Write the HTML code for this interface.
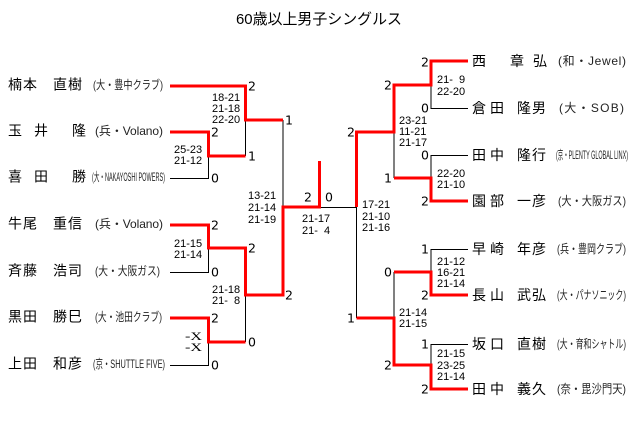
<!DOCTYPE html>
<html><head><meta charset="utf-8"><style>
html,body{margin:0;padding:0;background:#fff;}
svg{display:block;}
.n{font-family:"Liberation Sans","Noto Sans CJK JP",sans-serif;font-size:14px;fill:#000;}
.a{font-family:"Liberation Sans","Noto Sans CJK JP",sans-serif;font-size:12px;fill:#222;}
.s{font-family:"Liberation Sans",sans-serif;font-size:11px;fill:#000;}
.r{font-family:"DejaVu Sans",sans-serif;font-size:12.5px;fill:#000;}
.t{font-family:"Liberation Sans","Noto Sans CJK JP",sans-serif;font-size:15px;fill:#000;}
.red{fill:none;stroke:#ff0000;stroke-width:3;}
.blk{fill:none;stroke:#000;stroke-width:1;}
</style></head><body>
<svg width="640" height="429" viewBox="0 0 640 429" xmlns="http://www.w3.org/2000/svg">
<text class="t" x="236" y="24" textLength="166" lengthAdjust="spacingAndGlyphs">60歳以上男子シングルス</text>

<!-- black lines -->
<g class="blk">
<path d="M170,178.5 H208.5 V156"/>
<path d="M170,272.5 H208.5 V248"/>
<path d="M170,365.5 H208.5 V342"/>
<path d="M245.5,120 V156"/>
<path d="M245.5,295 V342"/>
<path d="M283,120 V207"/>
<path d="M319,207.5 H357"/>
<path d="M468,108.5 H431 V85"/>
<path d="M468,155.5 H431 V178"/>
<path d="M394,132 V178"/>
<path d="M468,249.5 H431 V272"/>
<path d="M468,344.5 H431 V365"/>
<path d="M394,272 V318"/>
<path d="M356.5,207 V318"/>
</g>

<!-- red lines -->
<g class="red">
<path d="M170,86 H245.5 V120 H283"/>
<path d="M170,132 H208.5 V156 H245.5"/>
<path d="M170,225 H208.5 V248 H245.5 V295 H283 V207 H319.5 V161"/>
<path d="M170,318 H208.5 V342 H245.5"/>
<path d="M468,61 H431 V85 H394 V132 H356.5 V207"/>
<path d="M468,201 H431 V178 H394"/>
<path d="M468,295 H431 V272 H394"/>
<path d="M468,389 H431 V365 H394 V318 H356.5"/>
</g>

<!-- left names -->
<text class="n" x="8 23 53 68" y="89.5">楠本直樹</text>
<text class="n" x="8 34 72" y="135.5">玉井隆</text>
<text class="n" x="8 34 72" y="181.5">喜田勝</text>
<text class="n" x="8 23 53 68" y="228.5">牛尾重信</text>
<text class="n" x="8 23 53 68" y="275.5">斉藤浩司</text>
<text class="n" x="8 23 53 68" y="321.5">黒田勝巳</text>
<text class="n" x="8 23 53 68" y="368.5">上田和彦</text>

<text class="a" x="93" y="89" textLength="70" lengthAdjust="spacingAndGlyphs">(大・豊中クラブ)</text>
<text class="a" x="95" y="135" textLength="68" lengthAdjust="spacing">(兵・Volano)</text>
<text class="a" x="92" y="181" textLength="73" lengthAdjust="spacingAndGlyphs">(大・NAKAYOSHI POWERS)</text>
<text class="a" x="95" y="228" textLength="68" lengthAdjust="spacing">(兵・Volano)</text>
<text class="a" x="95" y="275" textLength="65" lengthAdjust="spacingAndGlyphs">(大・大阪ガス)</text>
<text class="a" x="95" y="321" textLength="67" lengthAdjust="spacingAndGlyphs">(大・池田クラブ)</text>
<text class="a" x="93" y="368" textLength="72" lengthAdjust="spacingAndGlyphs">(京・SHUTTLE FIVE)</text>

<!-- right names -->
<text class="n" x="472 510 533" y="66">西章弘</text>
<text class="n" x="472 490 517 532" y="113">倉田隆男</text>
<text class="n" x="472 490 517 532" y="160">田中隆行</text>
<text class="n" x="472 490 517 532" y="206">園部一彦</text>
<text class="n" x="472 490 517 532" y="254">早崎年彦</text>
<text class="n" x="472 490 517 532" y="300">長山武弘</text>
<text class="n" x="472 490 517 532" y="349">坂口直樹</text>
<text class="n" x="472 490 517 532" y="394">田中義久</text>

<text class="a" x="558" y="65" textLength="68" lengthAdjust="spacing">(和・Jewel)</text>
<text class="a" x="559" y="112" textLength="65" lengthAdjust="spacing">(大・SOB)</text>
<text class="a" x="556" y="159" textLength="72" lengthAdjust="spacingAndGlyphs">(京・PLENTY GLOBAL LINX)</text>
<text class="a" x="558" y="205" textLength="68" lengthAdjust="spacingAndGlyphs">(大・大阪ガス)</text>
<text class="a" x="557" y="253" textLength="69" lengthAdjust="spacingAndGlyphs">(兵・豊岡クラブ)</text>
<text class="a" x="557" y="299" textLength="69" lengthAdjust="spacingAndGlyphs">(大・パナソニック)</text>
<text class="a" x="557" y="348" textLength="69" lengthAdjust="spacingAndGlyphs">(大・育和シャトル)</text>
<text class="a" x="557" y="393" textLength="69" lengthAdjust="spacingAndGlyphs">(奈・毘沙門天)</text>

<!-- round labels left -->
<g class="r">
<text x="248" y="90.5">2</text>
<text x="211" y="136.5">2</text>
<text x="211" y="182.5">0</text>
<text x="248" y="160.5">1</text>
<text x="285" y="124.5">1</text>
<text x="211" y="229.5">2</text>
<text x="211" y="276.5">0</text>
<text x="248" y="252.5">2</text>
<text x="285" y="299.5">2</text>
<text x="211" y="322.5">2</text>
<text x="211" y="369.5">0</text>
<text x="248" y="346.5">0</text>
<text x="304" y="201.5">2</text>
<text x="325" y="201.5">0</text>
</g>
<g class="r" text-anchor="end">
<text x="429" y="66.5">2</text>
<text x="429" y="112.5">0</text>
<text x="392" y="89.5">2</text>
<text x="355" y="136.5">2</text>
<text x="429" y="159.5">0</text>
<text x="429" y="205.5">2</text>
<text x="392" y="182.5">1</text>
<text x="429" y="253.5">1</text>
<text x="429" y="299.5">2</text>
<text x="392" y="276.5">0</text>
<text x="355" y="322.5">1</text>
<text x="429" y="348.5">1</text>
<text x="429" y="393.5">2</text>
<text x="392" y="369.5">2</text>
</g>

<!-- scores -->
<g class="s">
<text x="212" y="101">18-21</text>
<text x="212" y="112">21-18</text>
<text x="212" y="123">22-20</text>
<text x="174" y="153">25-23</text>
<text x="174" y="164">21-12</text>
<text x="248" y="199">13-21</text>
<text x="248" y="211">21-14</text>
<text x="248" y="223">21-19</text>
<text x="174" y="247">21-15</text>
<text x="174" y="258">21-14</text>
<text x="212" y="293">21-18</text>
<text x="212" y="304">21-<tspan x="234">8</tspan></text>
<text x="302" y="222">21-17</text>
<text x="302" y="234">21-<tspan x="324">4</tspan></text>

<text x="437" y="83">21-<tspan x="459">9</tspan></text>
<text x="437" y="95">22-20</text>
<text x="399" y="124">23-21</text>
<text x="399" y="135">11-21</text>
<text x="399" y="146">21-17</text>
<text x="437" y="177">22-20</text>
<text x="437" y="188">21-10</text>
<text x="362" y="208">17-21</text>
<text x="362" y="220">21-10</text>
<text x="362" y="231">21-16</text>
<text x="437" y="265">21-12</text>
<text x="437" y="276">16-21</text>
<text x="437" y="287">21-14</text>
<text x="399" y="316">21-14</text>
<text x="399" y="327">21-15</text>
<text x="437" y="357">21-15</text>
<text x="437" y="369">23-25</text>
<text x="437" y="380">21-14</text>
</g>
<g style="font-family:'Liberation Serif',serif;font-size:12px;fill:#000;">
<text x="185" y="340" textLength="17" lengthAdjust="spacingAndGlyphs">-X</text>
<text x="185" y="351" textLength="17" lengthAdjust="spacingAndGlyphs">-X</text>
</g>
</svg>
</body></html>
